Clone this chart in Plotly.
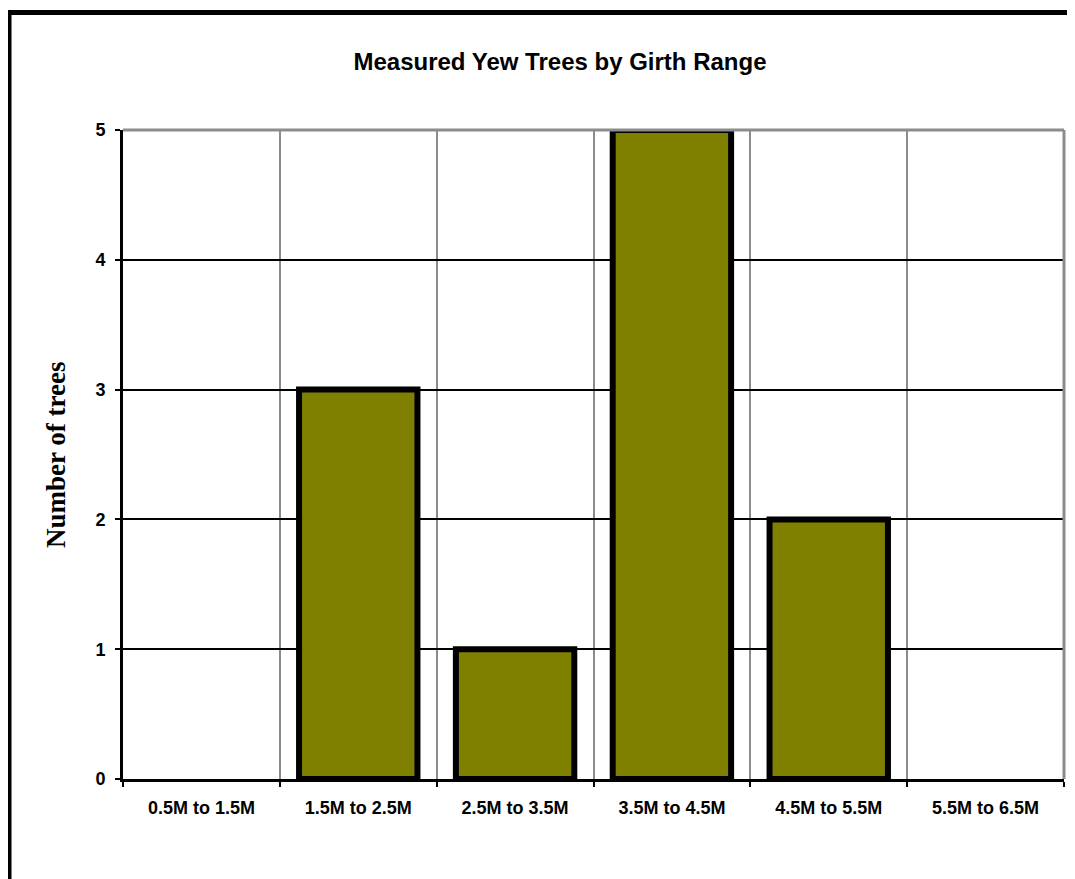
import plotly.graph_objects as go

categories = ["0.5M to 1.5M", "1.5M to 2.5M", "2.5M to 3.5M", "3.5M to 4.5M", "4.5M to 5.5M", "5.5M to 6.5M"]
counts = [0, 3, 1, 5, 2, 0]
y_ticks = [0, 1, 2, 3, 4, 5]

W, H = 1075, 879
OFF = 8  # page body margin offset
L, T = 123 - OFF, 130 - OFF
R = W - (1064 - OFF)
B = H - (779 - OFF)
pw, ph = W - L - R, H - T - B

def px_x(x):
    return (x - OFF - L) / pw

def px_y(y):
    return (H - B - (y - OFF)) / ph

fig = go.Figure()
fig.add_trace(go.Bar(
    x=categories, y=counts,
    marker=dict(color="#808000",
                line=dict(color="black", width=[6 if c > 0 else 0 for c in counts])),
    width=0.755,
))

fig.update_layout(
    width=W, height=H,
    margin=dict(l=L, r=R, t=T, b=B),
    paper_bgcolor="white", plot_bgcolor="white",
    showlegend=False,
    title=dict(text="<b>Measured Yew Trees by Girth Range</b>",
               x=(560 - OFF) / W, xref="container", xanchor="center",
               y=1 - (62 - OFF) / H, yref="container", yanchor="middle",
               font=dict(family="Arial, Liberation Sans", size=24, color="black")),
    font=dict(family="Arial, Liberation Sans", color="black"),
)

fig.update_xaxes(
    type="category", range=[-0.5, 5.5],
    tickson="boundaries", ticks="outside", ticklen=5, tickwidth=2, tickcolor="black",
    showgrid=True, gridcolor="#8c8c8c", gridwidth=2,
    showline=True, linecolor="black", linewidth=3,
    tickfont=dict(family="Arial, Liberation Sans", size=18, color="black", weight="bold"),
    ticklabelstandoff=10,
)
fig.update_yaxes(
    range=[0, 5], tickvals=y_ticks, ticktext=[f"<b>{v}</b>" for v in y_ticks],
    ticks="outside", ticklen=5, tickwidth=2, tickcolor="black",
    showgrid=True, gridcolor="black", gridwidth=2,
    showline=True, linecolor="black", linewidth=3,
    zeroline=False,
    tickfont=dict(family="Arial, Liberation Sans", size=18, color="black"),
    ticklabelstandoff=6,
)

fig.add_annotation(
    text="<b>Number of trees</b>", textangle=-90,
    x=px_x(56), y=px_y(455), xref="paper", yref="paper",
    xanchor="center", yanchor="middle", showarrow=False,
    font=dict(family="Times New Roman, Liberation Serif", size=27, color="black"),
)

# plot-area top and right border (gray)
fig.add_shape(type="line", xref="paper", yref="paper", x0=0, x1=1, y0=1, y1=1,
              line=dict(color="#8c8c8c", width=3), layer="above")
fig.add_shape(type="line", xref="paper", yref="paper", x0=1, x1=1, y0=0, y1=1,
              line=dict(color="#8c8c8c", width=3), layer="above")

# outer chart frame
fig.add_shape(type="rect", xref="paper", yref="paper",
              x0=px_x(9), x1=px_x(1100), y0=px_y(905), y1=px_y(12.5),
              line=dict(color="black", width=5), fillcolor="rgba(0,0,0,0)", layer="above")

fig.write_html("out.html")
